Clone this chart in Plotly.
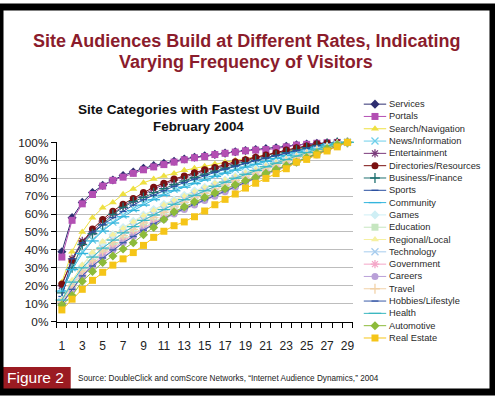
import plotly.graph_objects as go

days = [1, 2, 3, 4, 5, 6, 7, 8, 9, 10, 11, 12, 13, 14, 15, 16, 17, 18, 19, 20,
        21, 22, 23, 24, 25, 26, 27, 28, 29]
tick_days = [1, 3, 5, 7, 9, 11, 13, 15, 17, 19, 21, 23, 25, 27, 29]

services = [39, 58, 66.5, 72, 76, 79, 81.5, 83.5, 85.5, 87, 88.3, 89.5, 90.7, 91.7, 92.5, 93.3, 94, 94.8, 95.5, 96, 96.5, 97, 97.8, 98.6, 99.1, 99.5, 99.8, 100, 100]
portals = [36, 56.5, 65.7, 70.9, 75.6, 78.8, 80.6, 82.7, 84.7, 86.3, 87.6, 89, 90.3, 91.4, 92.1, 93.2, 93.9, 94.6, 95.3, 95.7, 96, 96.5, 97.5, 98.5, 98.9, 99.5, 99.8, 100, 100]
search_nav = [22, 39, 50, 58, 63.5, 66.5, 71, 74, 77.5, 79.5, 81.3, 82.7, 84.4, 85.5, 86.7, 88, 89, 90, 91, 92, 93, 94, 95, 96, 97, 98, 99, 99.5, 100]
news_info = [19, 30, 39, 45.5, 51, 55.5, 59.5, 63, 66, 69, 71.5, 73.8, 76, 78, 80, 81.8, 83.5, 85, 86.5, 88, 89.5, 91, 92.5, 94, 95.5, 97, 98.5, 99.5, 100]
entertainment = [20, 35, 45, 50, 56, 60.5, 64.5, 67.5, 71, 74, 76.5, 78.8, 80.6, 82.5, 84, 85.5, 87, 88.5, 90, 91.3, 92.6, 94, 95.3, 96.7, 97.8, 98.8, 99.5, 100, 100]
directories = [21, 34, 44, 51.7, 57, 61.6, 65.5, 68.7, 72, 75, 77.2, 79.5, 81.3, 83.1, 84.7, 86, 87.6, 89.2, 90.3, 91.7, 93, 94.2, 95.7, 97, 98, 99.2, 99.7, 100, 100]
business = [16, 30, 43, 49, 54, 59.8, 63.7, 66.9, 69.3, 72, 74.2, 76.5, 78.5, 80.5, 82.3, 84, 85.6, 87.2, 88.7, 90, 91.4, 92.8, 94.3, 95.7, 97, 98.3, 99.3, 100, 100]
sports = [14, 35, 44, 50, 54, 58, 61.5, 65, 68, 70.5, 73, 75.5, 77.5, 79.5, 81.5, 83.3, 85, 86.7, 88.3, 89.8, 91.2, 92.6, 94, 95.4, 96.7, 98, 99, 99.7, 100]
community = [17, 29, 38, 45, 50.5, 55, 58.5, 62, 65, 68, 70.5, 73, 75, 77, 79, 81, 82.8, 84.5, 86.2, 87.8, 89.4, 91, 92.6, 94.2, 95.7, 97.2, 98.6, 99.6, 100]
games = [12, 22, 31, 38, 44, 48.5, 52.5, 56, 59.5, 62.5, 65.5, 68, 70.5, 73, 75, 77, 79, 81, 83, 85, 86.8, 88.6, 90.4, 92.2, 94, 95.8, 97.6, 99, 100]
education = [10, 19, 27, 33, 38, 42, 45.5, 49, 52.5, 55.5, 58.5, 61.5, 64, 66.5, 69, 71.5, 74, 76.3, 78.6, 80.8, 83, 85.2, 87.4, 89.6, 91.8, 94, 96.3, 98.5, 100]
regional = [12, 23, 31.5, 38.5, 44.5, 48.5, 52, 55.5, 59, 62, 65, 67.5, 70, 72.5, 74.7, 77, 79, 81, 83, 85, 87, 88.8, 90.6, 92.4, 94.2, 96, 97.7, 99.2, 100]
technology = [11, 21, 29, 35.5, 41, 45.5, 49.5, 53, 56.5, 59.5, 62.5, 65.5, 68, 70.5, 73, 75.3, 77.5, 79.7, 81.8, 83.8, 85.8, 87.8, 89.8, 91.8, 93.7, 95.6, 97.5, 99, 100]
government = [9, 18, 26, 32, 37, 41, 45, 48.5, 52, 55, 58, 61, 63.5, 66, 68.5, 71, 73.5, 76, 78.3, 80.6, 82.8, 85, 87.2, 89.4, 91.6, 93.8, 96, 98.2, 100]
careers = [10, 18, 25, 31, 36, 40, 44, 47.5, 51, 54, 57, 60, 62.5, 65, 67.5, 70, 72.5, 75, 77.5, 79.8, 82, 84.2, 86.4, 88.6, 90.8, 93, 95.5, 98, 100]
travel = [11, 20, 28, 34, 39.5, 44, 48, 51.5, 55, 58, 61, 64, 66.5, 69, 71.5, 74, 76.3, 78.6, 80.8, 83, 85.2, 87.4, 89.5, 91.6, 93.6, 95.6, 97.5, 99.2, 100]
hobbies = [10, 18, 25.5, 31, 35.5, 40, 44, 47.5, 51, 54.5, 57.5, 60.5, 63, 65.5, 68, 70.5, 73, 75.5, 78, 80.3, 82.6, 84.8, 87, 89.2, 91.4, 93.6, 95.8, 98, 100]
health = [12, 22, 30, 36, 41, 45.5, 49.5, 53, 56.5, 59.5, 62.5, 65.5, 68, 70.5, 73, 75.5, 77.8, 80, 82.2, 84.3, 86.4, 88.4, 90.4, 92.4, 94.3, 96.2, 98, 99.4, 100]
automotive = [9.2, 14.5, 22.5, 28, 33, 36.6, 40.5, 44, 48.5, 52.5, 57, 61.2, 64, 66.8, 69.3, 71.8, 74.1, 76.3, 78.6, 80.4, 82.8, 85, 87, 89, 91.5, 94, 96.5, 98.8, 100]
real_estate = [6.5, 12.5, 18, 23, 27.5, 31.5, 35, 38.5, 42.5, 47, 50.4, 53.5, 55.6, 58.5, 61.7, 65.2, 68.2, 71.2, 74.5, 77.2, 79.9, 82.6, 85.3, 89, 90.5, 93, 95.2, 97.5, 100]

series_names = ["Services", "Portals", "Search/Navigation", "News/Information", "Entertainment",
                "Directories/Resources", "Business/Finance", "Sports", "Community", "Games",
                "Education", "Regional/Local", "Technology", "Government", "Careers", "Travel",
                "Hobbies/Lifestyle", "Health", "Automotive", "Real Estate"]
series_values = [services, portals, search_nav, news_info, entertainment, directories, business,
                 sports, community, games, education, regional, technology, government, careers,
                 travel, hobbies, health, automotive, real_estate]

colors = ["#2E2E70", "#B34FB3", "#EEE040", "#6ECFEA", "#7B3B7B", "#7A1010", "#1E7070",
          "#2A4FA0", "#33B5DD", "#CFEFF5", "#C6E6C0", "#F5F0A0", "#A6CCEE", "#F4A6C8",
          "#B9A0D8", "#F2D2A8", "#3B5BA8", "#3CB8C0", "#8DBB3A", "#F5C518"]
symbols = ["diamond", "square", "triangle-up", "x-thin-open", "asterisk-open", "circle",
           "cross-thin-open", "line-ew-open", "line-ew-open"]
sizes = [7, 7, 7, 7, 7, 7, 7, 5, 9]

FONT = "Liberation Sans, Arial, sans-serif"
fig = go.Figure()

for i, (name, vals) in enumerate(zip(series_names, series_values)):
    sym = symbols[i % 9]
    open_sym = sym.endswith("open")
    fig.add_trace(go.Scatter(
        x=days, y=[v / 100 for v in vals], name=name, mode="lines+markers",
        line=dict(color=colors[i], width=1),
        marker=dict(symbol=sym, size=sizes[i % 9], color=colors[i],
                    line=dict(color=colors[i], width=1.3 if open_sym else 0)),
        cliponaxis=False, showlegend=False, xaxis="x", yaxis="y"))

# legend built on an auxiliary axis
for i, name in enumerate(series_names):
    sym = symbols[i % 9]
    open_sym = sym.endswith("open")
    fig.add_trace(go.Scatter(
        x=[0, 0.5, 1], y=[i, i, i], mode="lines+markers",
        line=dict(color=colors[i], width=1),
        marker=dict(symbol=sym, size=sizes[i % 9], color=colors[i], opacity=[0, 1, 0],
                    line=dict(color=colors[i], width=1.3 if open_sym else 0)),
        cliponaxis=False, showlegend=False, hoverinfo="skip", xaxis="x2", yaxis="y2"))
    fig.add_annotation(x=389 / 495, xref="paper", y=i, yref="y2", text=name,
                       showarrow=False, xanchor="left", yanchor="middle",
                       font=dict(family=FONT, size=9.3, color="#2A2A2A"))

W, H = 495, 399
fig.update_layout(
    width=W, height=H, margin=dict(l=0, r=0, t=0, b=0),
    paper_bgcolor="white", plot_bgcolor="white",
    font=dict(family=FONT, color="#222222"),
    xaxis=dict(domain=[57 / W, 354 / W], range=[0.5, 29.5], tickmode="array",
               tickvals=tick_days, ticktext=[str(d) for d in tick_days],
               ticks="outside", ticklen=13, tickcolor="rgba(0,0,0,0)",
               tickfont=dict(size=12, color="#222222"),
               showgrid=False, showline=True, linecolor="black", linewidth=1,
               zeroline=False,
               minor=dict(ticks="outside", tick0=0.5, dtick=1, ticklen=5,
                          tickcolor="black", showgrid=False)),
    yaxis=dict(domain=[(H - 326) / H, (H - 140.3) / H], range=[0, 1], tickmode="linear",
               tick0=0, dtick=0.1, tickformat=".0%", ticks="outside", ticklen=5,
               tickcolor="black", tickfont=dict(size=11.8, color="#222222"),
               showgrid=True, gridcolor="#BDBDBD", gridwidth=1,
               showline=True, linecolor="black", linewidth=1, zeroline=False),
    xaxis2=dict(domain=[365 / W, 388 / W], range=[0, 1], visible=False, anchor="y2"),
    yaxis2=dict(domain=[(H - 349.4) / H, (H - 94.3) / H], range=[19.5, -0.5],
                visible=False, anchor="x2"),
)

# titles
TITLE_RED = "#8B1C2C"
fig.add_annotation(x=247 / W, y=(H - 35.5) / H, xref="paper", yref="paper",
                   text="<b>Site Audiences Build at Different Rates, Indicating</b>",
                   showarrow=False, xanchor="center", yanchor="middle",
                   font=dict(family=FONT, size=18, color=TITLE_RED))
fig.add_annotation(x=247 / W, y=(H - 57) / H, xref="paper", yref="paper",
                   text="<b>Varying Frequency of Visitors</b>",
                   showarrow=False, xanchor="center", yanchor="middle",
                   font=dict(family=FONT, size=18, color=TITLE_RED))
fig.add_annotation(x=199.5 / W, y=(H - 106) / H, xref="paper", yref="paper",
                   text="<b>Site Categories with Fastest UV Build</b>",
                   showarrow=False, xanchor="center", yanchor="middle",
                   font=dict(family=FONT, size=13.6, color="#111111"))
fig.add_annotation(x=199.5 / W, y=(H - 124) / H, xref="paper", yref="paper",
                   text="<b>February 2004</b>",
                   showarrow=False, xanchor="center", yanchor="middle",
                   font=dict(family=FONT, size=13.4, color="#111111"))

# footer
fig.add_shape(type="rect", xref="paper", yref="paper", x0=0, x1=71 / W,
              y0=0, y1=(H - 373) / H, fillcolor="#9B1B22", line=dict(width=0))
fig.add_annotation(x=36 / W, y=(H - 384) / H, xref="paper", yref="paper", text="Figure 2",
                   showarrow=False, xanchor="center", yanchor="middle",
                   font=dict(family=FONT, size=15.5, color="white"))
fig.add_annotation(x=76 / W, y=(H - 385) / H, xref="paper", yref="paper",
                   text="Source: DoubleClick and comScore Networks, \u201cInternet Audience Dynamics,\u201d 2004",
                   showarrow=False, xanchor="left", yanchor="middle",
                   font=dict(family=FONT, size=8.2, color="#222222"))

# outer frame
fig.add_shape(type="rect", xref="paper", yref="paper", x0=0, x1=1, y0=0, y1=1,
              line=dict(color="black", width=7), fillcolor="rgba(0,0,0,0)")

fig.write_html("out.html", config={"displayModeBar": False},
               post_script="document.body.style.margin='0px';document.body.style.padding='0px';")
